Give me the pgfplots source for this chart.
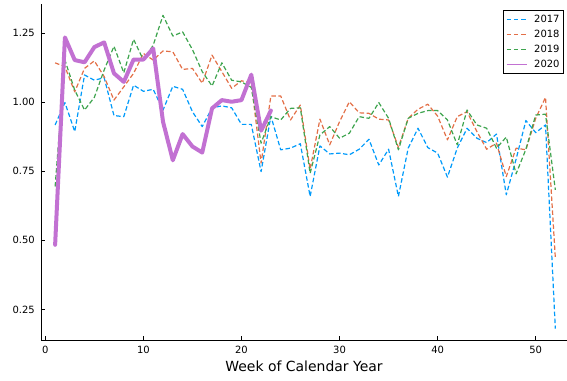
\documentclass[border=0pt]{standalone}
\usepackage{fontspec}
\setmainfont{DejaVu Sans}
\usepackage{pgfplots}
\pgfplotsset{compat=1.18}
\usepackage{pgfplotstable}
\definecolor{c17}{RGB}{0,154,250}
\definecolor{c18}{RGB}{227,111,71}
\definecolor{c19}{RGB}{62,164,78}
\definecolor{c20}{RGB}{194,113,210}
\pgfplotsset{
  dashlegend/.style={legend image code/.code={\draw[##1, draw=#1, line width=1.2bp, dash pattern=on 4.5bp off 2.8bp] (0bp,0bp) -- (20bp,0bp);}},
  thinlegend/.style={legend image code/.code={\draw[##1, draw=#1, line width=1bp, line cap=butt] (0bp,0bp) -- (20bp,0bp);}}
}
\pgfplotstableread{
w y17 y18 y19
1 0.918 1.143 0.695
2 0.999 1.129 1.153
3 0.894 1.038 1.044
4 1.099 1.123 0.972
5 1.080 1.150 1.018
6 1.089 1.093 1.117
7 0.952 1.008 1.203
8 0.948 1.056 1.107
9 1.062 1.105 1.228
10 1.040 1.177 1.153
11 1.047 1.153 1.207
12 0.972 1.186 1.315
13 1.058 1.183 1.240
14 1.047 1.119 1.255
15 0.966 1.123 1.191
16 0.912 1.069 1.111
17 0.980 1.171 1.059
18 0.987 1.111 1.143
19 0.980 1.051 1.080
20 0.920 1.078 1.074
21 0.920 1.069 1.054
22 0.749 0.780 0.852
23 0.950 1.023 0.948
24 0.828 1.023 0.936
25 0.834 0.936 0.978
26 0.850 0.990 0.980
27 0.659 0.758 0.743
28 0.842 0.939 0.882
29 0.813 0.846 0.912
30 0.816 0.930 0.870
31 0.810 1.002 0.888
32 0.830 0.962 0.948
33 0.866 0.960 0.942
34 0.773 0.939 0.999
35 0.830 0.936 0.942
36 0.659 0.837 0.828
37 0.834 0.942 0.942
38 0.906 0.975 0.960
39 0.836 0.993 0.970
40 0.816 0.950 0.970
41 0.729 0.864 0.936
42 0.834 0.948 0.846
43 0.906 0.966 0.972
44 0.870 0.894 0.918
45 0.854 0.830 0.906
46 0.885 0.852 0.834
47 0.665 0.731 0.874
48 0.794 0.834 0.741
49 0.934 0.828 0.830
50 0.890 0.942 0.954
51 0.918 1.018 0.957
52 0.180 0.437 0.683
}\datamain
\pgfplotstableread{
w y20
1 0.484
2 1.235
3 1.153
4 1.145
5 1.200
6 1.217
7 1.105
8 1.074
9 1.155
10 1.155
11 1.195
12 0.930
13 0.790
14 0.885
15 0.840
16 0.818
17 0.978
18 1.008
19 1.002
20 1.008
21 1.100
22 0.897
23 0.970
}\datatwenty
\begin{document}
\begin{tikzpicture}
\useasboundingbox (0,0) rectangle (567bp,381bp);
\begin{axis}[
  at={(41bp,40.7bp)}, anchor=south west,
  scale only axis, width=526bp, height=336bp,
  xmin=-0.44, xmax=53.19, ymin=0.138, ymax=1.355,
  axis x line*=bottom, axis y line*=left,
  axis line style={line width=0.9bp, black, -},
  tick align=inside, major tick length=4bp,
  tick style={line width=0.9bp, black},
  xtick={0,10,20,30,40,50},
  ytick={0.25,0.5,0.75,1.0,1.25},
  /pgf/number format/assume math mode=true,
  yticklabel={\pgfmathprintnumber[fixed,fixed zerofill,precision=2]{\tick}},
  ticklabel style={font=\fontsize{10}{10}\selectfont, inner sep=0pt},
  xticklabel style={yshift=-5.4bp},
  yticklabel style={xshift=-6bp},
  xlabel={Week of Calendar Year},
  xlabel style={font=\fontsize{14}{14}\selectfont, at={(axis description cs:0.5,0)}, anchor=base, yshift=-31.4bp, inner sep=0pt},
  legend cell align=left,
  legend style={at={(1,1)}, anchor=north east, xshift=-3bp, yshift=-5.5bp,
    font=\fontsize{10}{10}\selectfont, draw=black, line width=0.9bp, fill=white,
    inner xsep=3bp, inner ysep=3.5bp, row sep=4.3bp,
    nodes={inner sep=1pt}},
  every axis plot/.append style={line join=round},
]
\addplot[c17, line width=1.2bp, dash pattern=on 4.5bp off 2.5bp, dashlegend=c17] table[x=w,y=y17] {\datamain};
\addlegendentry{\hspace{6bp}2017}
\addplot[c18, line width=1.2bp, dash pattern=on 4.5bp off 2.5bp, dashlegend=c18] table[x=w,y=y18] {\datamain};
\addlegendentry{\hspace{6bp}2018}
\addplot[c19, line width=1.2bp, dash pattern=on 4.5bp off 2.5bp, dashlegend=c19] table[x=w,y=y19] {\datamain};
\addlegendentry{\hspace{6bp}2019}
\addplot[c20, line width=4bp, line cap=round, thinlegend=c20] table[x=w,y=y20] {\datatwenty};
\addlegendentry{\hspace{6bp}2020}
\end{axis}
\end{tikzpicture}
\end{document}
